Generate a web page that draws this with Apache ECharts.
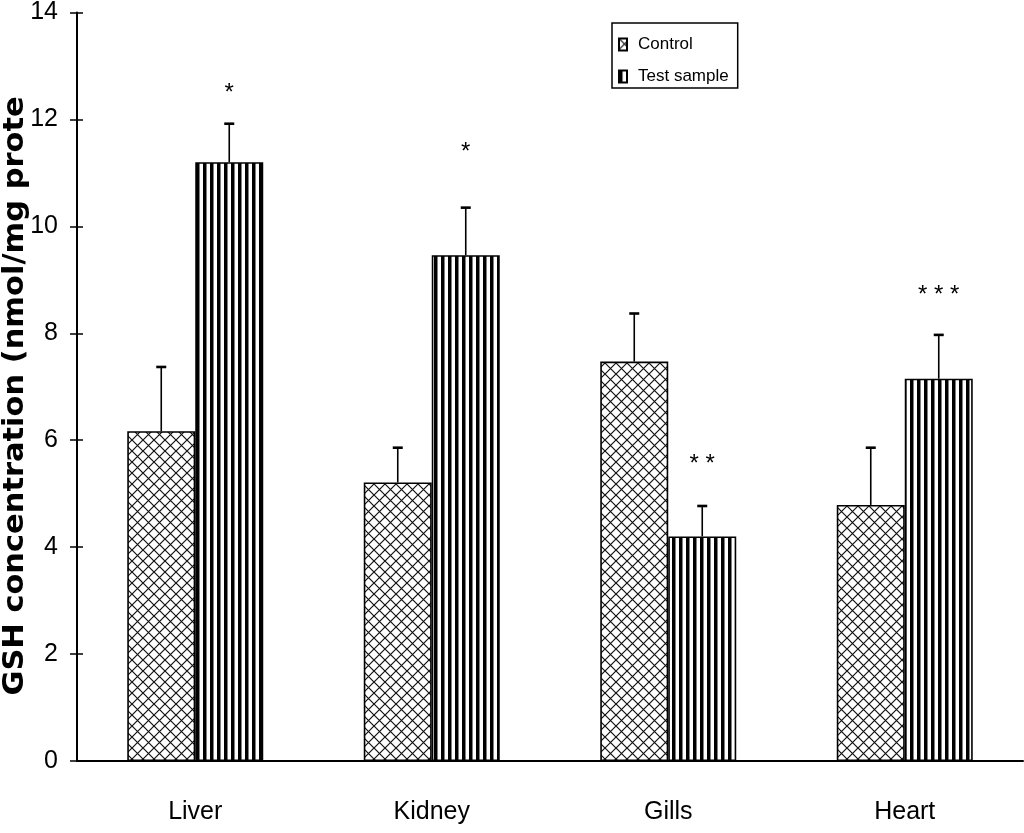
<!DOCTYPE html>
<html>
<head>
<meta charset="utf-8">
<script src="https://cdn.jsdelivr.net/npm/echarts@6/dist/echarts.min.js"></script>
<style>
html,body{margin:0;padding:0;background:#fff;}
#chart{width:1024px;height:833px;}
</style>
</head>
<body>
<div id="chart"></div>
<script>
// ---- data ----
const categories = ['Liver', 'Kidney', 'Gills', 'Heart'];
const seriesNames = ['Control', 'Test sample'];
const controlMeans = [6.17, 5.21, 7.47, 4.79];
const controlErr = [1.2, 0.65, 0.9, 1.07];
const testMeans = [11.2, 9.46, 4.2, 7.15];
const testErr = [0.72, 0.89, 0.57, 0.82];
const sigLabels = ['*', '*', '* *', '* * *'];
const sigLevels = [12.36, 11.26, 5.42, 8.57];
const yTicks = {min: 0, max: 14, interval: 2};
const yTitle = 'GSH concentration (nmol/mg prote';

// ---- patterns ----
function hatchPattern() {
  const s = 11;
  const c = document.createElement('canvas');
  c.width = s; c.height = s;
  const g = c.getContext('2d');
  g.fillStyle = '#fff'; g.fillRect(0, 0, s, s);
  g.strokeStyle = '#111'; g.lineWidth = 1.2;
  g.beginPath();
  g.moveTo(0, 0); g.lineTo(s, s);
  g.moveTo(s, 0); g.lineTo(0, s);
  g.stroke();
  return c;
}
function stripePattern() {
  const c = document.createElement('canvas');
  c.width = 7; c.height = 7;
  const g = c.getContext('2d');
  g.fillStyle = '#fff'; g.fillRect(0, 0, 7, 7);
  g.fillStyle = '#000'; g.fillRect(0, 0, 3.5, 7);
  return c;
}
const hatch = {image: hatchPattern(), repeat: 'repeat'};
const stripes = {image: stripePattern(), repeat: 'repeat'};

const BAR_FRAC = 0.2875;
const sans = '"Liberation Sans", Arial, sans-serif';

function errRenderer(side) {
  return function (params, api) {
    const i = api.value(0);
    const v = api.value(1);
    const e = api.value(2);
    const base = api.coord([i, v]);
    const top = api.coord([i, v + e]);
    const bw = api.size([1, 0])[0] * BAR_FRAC;
    const x = base[0] + side * bw / 2;
    return {
      type: 'group',
      children: [
        {type: 'line', shape: {x1: x, y1: base[1], x2: x, y2: top[1]}, style: {stroke: '#000', lineWidth: 1.6}},
        {type: 'line', shape: {x1: x - 5, y1: top[1], x2: x + 5, y2: top[1]}, style: {stroke: '#000', lineWidth: 2.6}}
      ]
    };
  };
}

const yBase = {type: 'value', min: yTicks.min, max: yTicks.max, interval: yTicks.interval, position: 'left',
               splitLine: {show: false}};

const chart = echarts.init(document.getElementById('chart'), null, {renderer: 'canvas'});
const option = {
  animation: false,
  backgroundColor: '#fff',
  grid: {left: 77, right: 1, top: 5, bottom: 72},
  legend: {
    orient: 'vertical',
    left: 612, top: 23,
    itemWidth: 8, itemHeight: 12, itemGap: 15,
    padding: [13, 9, 3, 6],
    borderColor: '#000', borderWidth: 1.5,
    icon: 'rect',
    data: seriesNames,
    textStyle: {fontSize: 17, fontFamily: sans, color: '#000', padding: [0, 0, 0, 6]}
  },
  xAxis: [
    {
      type: 'category', data: categories,
      axisLine: {lineStyle: {color: '#000', width: 2}},
      axisTick: {inside: true, length: 7, lineStyle: {color: '#000', width: 1.5}},
      axisLabel: {color: '#000', fontSize: 25, fontFamily: sans, margin: 39},
      splitLine: {show: false}
    },
    {
      type: 'category', data: categories, position: 'bottom',
      axisLine: {show: false},
      axisTick: {alignWithLabel: true, length: 7, lineStyle: {color: '#000', width: 1.5}},
      axisLabel: {show: false},
      splitLine: {show: false}
    }
  ],
  yAxis: [
    Object.assign({}, yBase, {
      axisLine: {show: true, lineStyle: {color: '#000', width: 2}},
      axisTick: {show: true, length: 7, lineStyle: {color: '#000', width: 1.5}},
      axisLabel: {color: '#000', fontSize: 25, fontFamily: sans, margin: 19}
    }),
    Object.assign({}, yBase, {
      axisLine: {show: false},
      axisTick: {show: true, inside: true, length: 6, lineStyle: {color: '#000', width: 1.5}},
      axisLabel: {show: false}
    })
  ],
  graphic: [{
    type: 'text', x: 15, y: 396, rotation: Math.PI / 2, scaleX: 1.05,
    style: {text: yTitle, fontSize: 29, fontWeight: 'bold', fontFamily: '"DejaVu Sans", sans-serif',
            textAlign: 'center', textVerticalAlign: 'middle', fill: '#000'}
  }],
  series: [
    {name: seriesNames[0], type: 'bar', data: controlMeans, barWidth: (BAR_FRAC * 100) + '%', barGap: '0%',
     itemStyle: {color: hatch, borderColor: '#000', borderWidth: 1.6}},
    {name: seriesNames[1], type: 'bar', data: testMeans, barWidth: (BAR_FRAC * 100) + '%', barGap: '0%',
     itemStyle: {color: stripes, borderColor: '#000', borderWidth: 1.6}},
    {type: 'custom', z: 10, data: controlMeans.map((v, i) => [i, v, controlErr[i]]),
     encode: {x: 0, y: 1}, renderItem: errRenderer(-1)},
    {type: 'custom', z: 10, data: testMeans.map((v, i) => [i, v, testErr[i]]),
     encode: {x: 0, y: 1}, renderItem: errRenderer(1)},
    {type: 'custom', z: 10, data: sigLevels.map((v, i) => [i, v]), encode: {x: 0, y: 1},
     renderItem: function (params, api) {
       const i = api.value(0);
       const p = api.coord([i, api.value(1)]);
       const bw = api.size([1, 0])[0] * BAR_FRAC;
       return {type: 'text', x: p[0] + bw / 2, y: p[1] - 7,
               style: {text: sigLabels[params.dataIndex], fontSize: 24, fontFamily: sans,
                       align: 'center', verticalAlign: 'middle',
                       textAlign: 'center', textVerticalAlign: 'middle', fill: '#000'}};
     }}
  ]
};
chart.setOption(option);
</script>
</body>
</html>
